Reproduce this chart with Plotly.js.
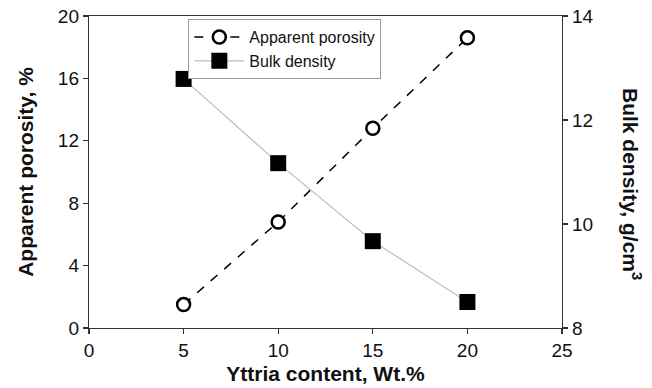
<!DOCTYPE html>
<html>
<head>
<meta charset="utf-8">
<script src="https://cdn.plot.ly/plotly-3.0.1.min.js"></script>
<style>html,body{margin:0;padding:0;background:#fff;}#chart{width:652px;height:388px;}</style>
</head>
<body>
<div id="chart"></div>
<script>
var yttria = [5, 10, 15, 20];
var porosity = [1.5, 6.8, 12.8, 18.6];
var bulkDensity = [12.79, 11.17, 9.67, 8.5];

var font = 'Liberation Sans, Arial, sans-serif';

var traces = [
  {
    x: yttria, y: porosity, name: 'Apparent porosity', type: 'scatter', mode: 'lines+markers',
    line: {color: '#000', width: 1.5, dash: 'dash'},
    marker: {symbol: 'circle', size: 13, color: '#fff', line: {color: '#000', width: 2.5}},
    yaxis: 'y'
  },
  {
    x: yttria, y: bulkDensity, name: 'Bulk density', type: 'scatter', mode: 'lines+markers',
    line: {color: '#bdbdbd', width: 1.2},
    marker: {symbol: 'square', size: 16, color: '#000'},
    yaxis: 'y2'
  }
];

var axisCommon = {
  showline: true, linecolor: '#333', linewidth: 1.2,
  ticks: 'outside', ticklen: 5, tickcolor: '#333', tickwidth: 1.2,
  showgrid: false, zeroline: false,
  tickfont: {family: font, size: 19, color: '#111'}
};

var layout = {
  width: 652, height: 388,
  margin: {l: 89, r: 90, t: 16, b: 60},
  paper_bgcolor: '#fff', plot_bgcolor: '#fff',
  showlegend: true,
  legend: {
    x: 0.21, y: 0.99, xanchor: 'left', yanchor: 'top',
    bordercolor: '#999', borderwidth: 1, bgcolor: '#fff',
    font: {family: font, size: 16, color: '#111'},
    tracegroupgap: 0, itemwidth: 50
  },
  xaxis: Object.assign({}, axisCommon, {
    range: [0, 25], tickvals: [0, 5, 10, 15, 20, 25], mirror: true,
    title: {text: 'Yttria content, Wt.%', font: {family: font, size: 21, color: '#111', weight: 'bold'}, standoff: 6}
  }),
  yaxis: Object.assign({}, axisCommon, {
    range: [0, 20], tickvals: [0, 4, 8, 12, 16, 20],
    title: {text: 'Apparent porosity, %', font: {family: font, size: 21, color: '#111', weight: 'bold'}, standoff: 18}
  }),
  yaxis2: Object.assign({}, axisCommon, {
    range: [8, 14], tickvals: [8, 10, 12, 14], overlaying: 'y', side: 'right'
  }),
  annotations: [{
    xref: 'paper', yref: 'paper', x: 1, y: 0.5, xanchor: 'center', yanchor: 'middle',
    xshift: 70, yshift: -12, showarrow: false, textangle: 90,
    text: 'Bulk density, g/cm<sup>3</sup>',
    font: {family: font, size: 21, color: '#111', weight: 'bold'}
  }]
};

Plotly.newPlot('chart', traces, layout, {displayModeBar: false, staticPlot: true});
</script>
</body>
</html>
